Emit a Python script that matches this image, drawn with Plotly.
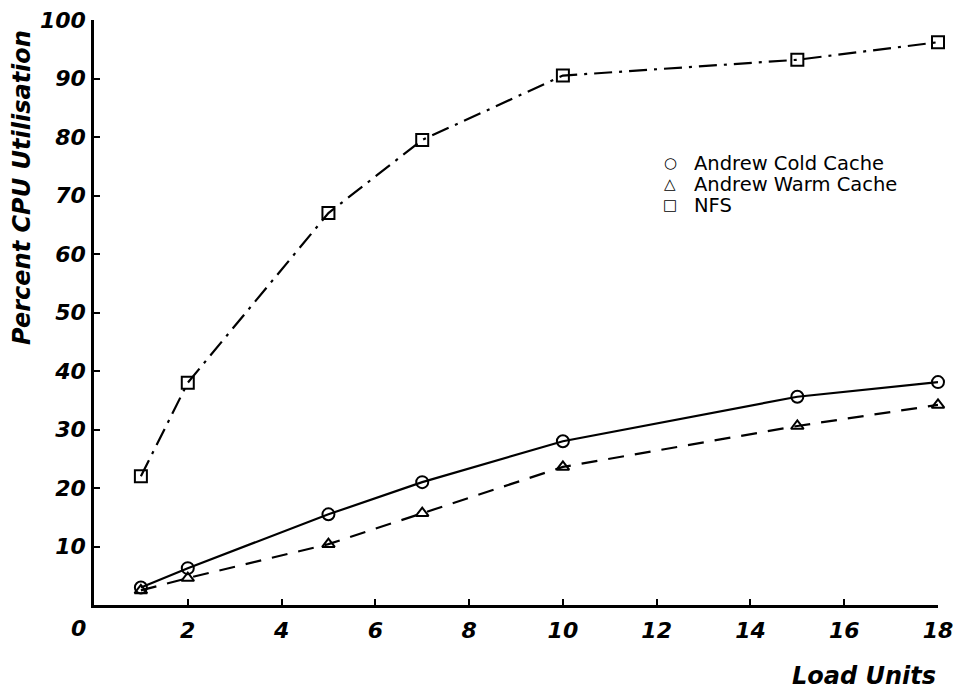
import plotly.graph_objects as go

load_units = [1, 2, 5, 7, 10, 15, 18]
cold_cache = [3.0, 6.3, 15.5, 21.0, 28.0, 35.6, 38.1]
warm_cache = [2.5, 4.6, 10.4, 15.7, 23.6, 30.6, 34.2]
nfs = [22.0, 38.0, 67.0, 79.5, 90.5, 93.2, 96.2]

series_names = ["Andrew Cold Cache", "Andrew Warm Cache", "NFS"]
legend_glyphs = ["○", "△", "□"]

x_ticks = [2, 4, 6, 8, 10, 12, 14, 16, 18]
y_ticks = [10, 20, 30, 40, 50, 60, 70, 80, 90, 100]

series = [
    (series_names[0], cold_cache, "solid", "circle-open", 12),
    (series_names[1], warm_cache, "16px,11px", "triangle-up-open", 11),
    (series_names[2], nfs, "18px,7px,3px,7px", "square-open", 12),
]

# The page body has an 8px margin, so the figure starts at (8, 8) in the window.
OFF = 8
W, H = 961 - OFF, 690 - OFF
# plot area in window pixels
PL, PR, PT, PB = 94, 938, 20, 605
ML, MT = PL - OFF, PT - OFF
MR, MB = W - (PR - OFF), H - (PB - OFF)
PW = PR - PL
PH = PB - PT


def win_to_paper(px, py):
    return (px - PL) / PW, (PB - py) / PH


bold_italic = dict(family="DejaVu Sans, Liberation Sans, sans-serif", color="black",
                   weight="bold", style="italic")
tick_font = dict(bold_italic, size=22)
legend_font = dict(family="DejaVu Sans, Liberation Sans, sans-serif", size=19.5, color="black")

fig = go.Figure()
for name, vals, dash, sym, sz in series:
    fig.add_trace(go.Scatter(
        x=load_units, y=vals, mode="lines+markers", name=name, showlegend=False,
        line=dict(color="black", width=2.2, dash=dash),
        marker=dict(symbol=sym, size=sz, color="black", line=dict(width=2)),
        cliponaxis=False,
    ))

zx, zy = win_to_paper(78, 628)
tx, ty = win_to_paper(938, 676)
yx, yy = win_to_paper(22, 188)

annotations = [
    dict(text="0", x=zx, y=zy, xref="paper", yref="paper", showarrow=False,
         xanchor="center", yanchor="middle", font=tick_font),
    dict(text="Load Units", x=tx, y=ty, xref="paper", yref="paper",
         xanchor="right", yanchor="middle", showarrow=False,
         font=dict(bold_italic, size=24)),
    dict(text="Percent CPU Utilisation", x=yx, y=yy, xref="paper", yref="paper",
         xanchor="center", yanchor="middle", textangle=-90, showarrow=False,
         font=dict(bold_italic, size=24)),
]

# legend drawn as text (symbol + label), rows ~21px apart
row_y = [163, 184, 205]
for name, glyph, ry in zip(series_names, legend_glyphs, row_y):
    gx, gy = win_to_paper(670, ry)
    lx, _ = win_to_paper(692, ry)
    annotations.append(dict(text=glyph, x=gx, y=gy, xref="paper", yref="paper",
                            showarrow=False, xanchor="center", yanchor="middle",
                            font=dict(family="DejaVu Sans, sans-serif", size=15,
                                      color="black", weight="bold")))
    annotations.append(dict(text=name, x=lx, y=gy, xref="paper", yref="paper",
                            showarrow=False, xanchor="left", yanchor="middle",
                            font=legend_font))

fig.update_layout(
    width=W, height=H,
    margin=dict(l=ML, r=MR, t=MT, b=MB, autoexpand=False),
    paper_bgcolor="white", plot_bgcolor="white",
    showlegend=False,
    xaxis=dict(range=[0, 18], tickvals=x_ticks, ticktext=[str(v) for v in x_ticks],
               showgrid=False, zeroline=False, showline=True, linecolor="black", linewidth=2.5,
               ticks="inside", ticklen=6, tickwidth=2, tickcolor="black",
               tickfont=tick_font, automargin=False, ticklabelstandoff=4,
               ticklabeloverflow="allow"),
    yaxis=dict(range=[0, 100], tickvals=y_ticks, ticktext=[str(v) for v in y_ticks],
               showgrid=False, zeroline=False, showline=True, linecolor="black", linewidth=2.5,
               ticks="inside", ticklen=6, tickwidth=2, tickcolor="black",
               tickfont=tick_font, ticklabelstandoff=1, automargin=False,
               ticklabeloverflow="allow"),
    annotations=annotations,
)

fig.write_html("out.html")
